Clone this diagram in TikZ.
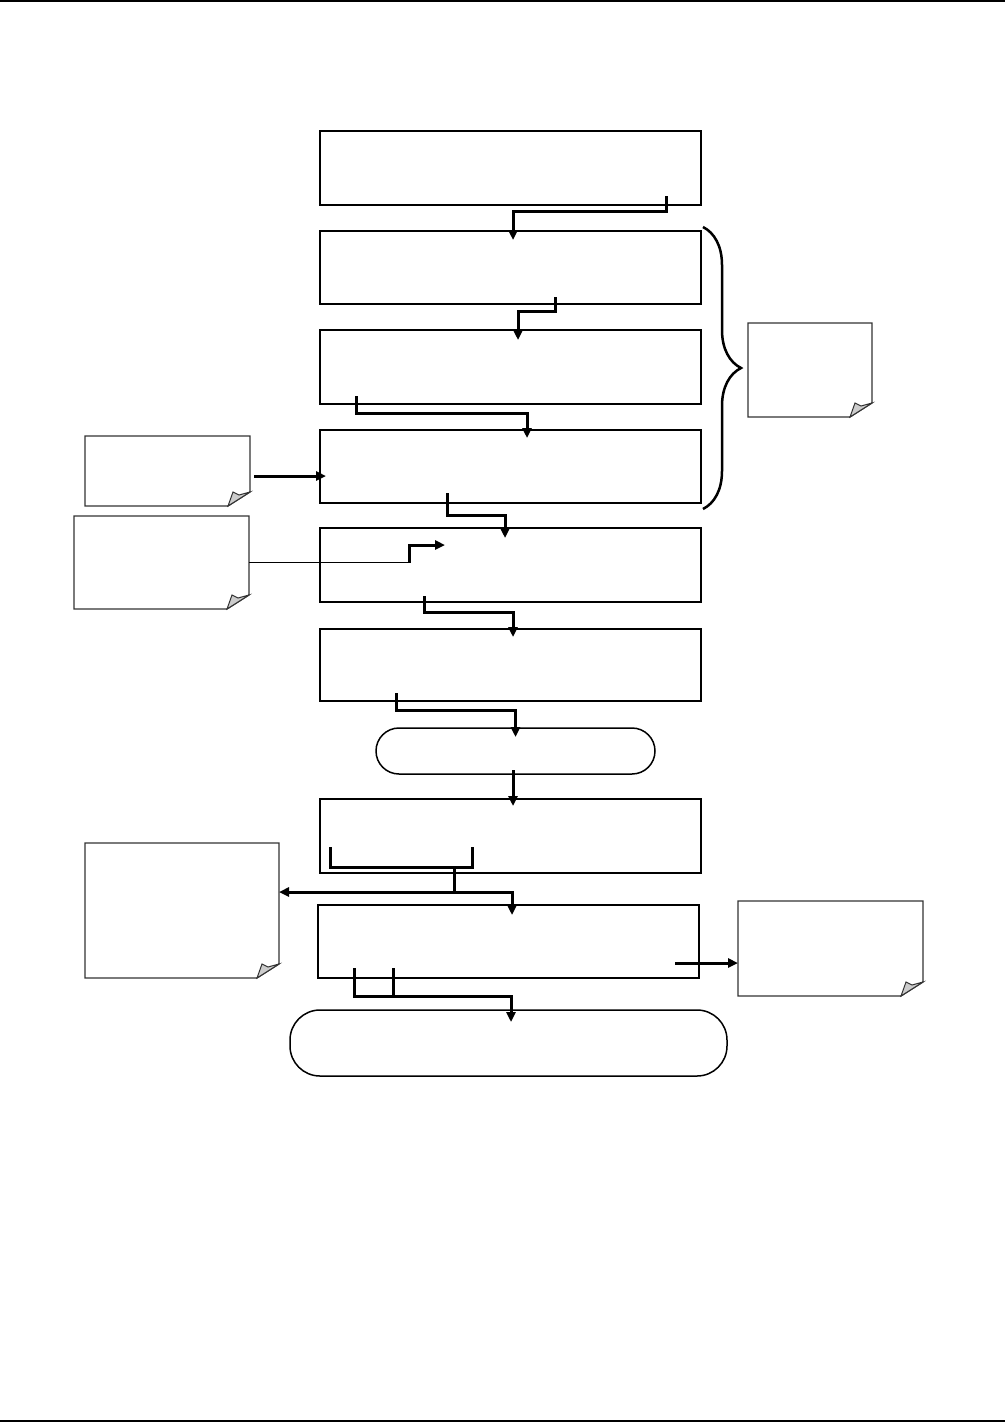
\documentclass[tikz,border=0pt]{standalone}
\usetikzlibrary{arrows.meta,decorations.pathreplacing}

\begin{document}
\begin{tikzpicture}[
    x=1pt, y=-1pt,
    >={Triangle[length=10pt,width=9pt]},
    stage/.style={
      rectangle, draw=black, line width=1.5pt, inner sep=0pt,
      outer sep=0pt, minimum width=381pt
    },
    term/.style={stage, rounded corners=#1},
    note/.style={rectangle, inner sep=0pt, outer sep=0pt},
    noteline/.style={draw=black!80, line width=1.3pt, fill=white},
    fold/.style={draw=black!80, line width=1pt, fill=black!20},
    flow/.style={->, line width=3pt},
    feed/.style={line width=1.5pt},
    rule/.style={line width=1.5pt}
  ]
  \useasboundingbox (0,0) rectangle (1005,1422);
  \draw[rule] (0,1) -- (1005,1);
  \draw[rule] (0,1421) -- (1005,1421);

  \node[stage, minimum height=74pt] (A) at (510.5,168) {};
  \node[stage, minimum height=73pt] (B) at (510.5,267.5) {};
  \node[stage, minimum height=74pt] (C) at (510.5,367) {};
  \node[stage, minimum height=73pt] (D) at (510.5,466.5) {};
  \node[stage, minimum height=74pt] (E) at (510.5,565) {};
  \node[stage, minimum height=72pt] (F) at (510.5,665) {};
  \node[term=23pt, minimum width=279pt, minimum height=46pt] (G) at (515.5,751) {};
  \node[stage, minimum height=74pt] (H) at (510.5,836) {};
  \node[stage, minimum height=73pt] (I) at (508.5,941.5) {};
  \node[term=30pt, minimum width=437pt, minimum height=66pt] (J) at (508.5,1043) {};

  \node[note, minimum width=165pt, minimum height=70pt] (N1) at (167.5,471) {};
  \node[note, minimum width=175pt, minimum height=93pt] (N2) at (161.5,562.5) {};
  \node[note, minimum width=124pt, minimum height=94pt] (N3) at (810,370) {};
  \node[note, minimum width=194pt, minimum height=135pt] (N4) at (182,910.5) {};
  \node[note, minimum width=185pt, minimum height=95pt] (N5) at (830.5,948.5) {};
  \foreach \n in {N1,N2,N3,N4,N5} {
    \draw[noteline] (\n.north west) -- (\n.north east)
      -- ([yshift=14pt]\n.south east) -- ([xshift=-22pt]\n.south east)
      -- (\n.south west) -- cycle;
    \draw[fold] ([xshift=-22pt]\n.south east) -- ([xshift=-17pt,yshift=14pt]\n.south east)
      -- ([xshift=-11pt,yshift=11pt]\n.south east) -- ([yshift=14pt]\n.south east) -- cycle;
  }

  \draw[line width=2.5pt, decoration={brace, amplitude=38pt}, decorate]
    ([xshift=2pt,yshift=4pt]B.north east) -- ([xshift=2pt,yshift=-6pt]D.south east);

  \draw[flow] ([xshift=-35pt,yshift=9pt]A.south east) -- ++(0,15)
    -| ([xshift=2.5pt,yshift=-9pt]B.north);
  \draw[flow] ([xshift=44.5pt,yshift=7pt]B.south) -- ++(0,14)
    -| ([xshift=7.5pt,yshift=-10pt]C.north);
  \draw[flow] ([xshift=36pt,yshift=8pt]C.south west) -- ++(0,17)
    -| ([xshift=16.5pt,yshift=-8pt]D.north);
  \draw[flow] ([xshift=4pt,yshift=-5pt]N1.east) -- ([xshift=6pt,yshift=-9.5pt]D.west);
  \draw[flow] ([xshift=-63.5pt,yshift=10pt]D.south) -- ++(0,22)
    -| ([xshift=-5.5pt,yshift=-10pt]E.north);
  \draw[feed] (N2.east) -- ++(160,0) coordinate (kink);
  \draw[flow] (kink) |- ([xshift=125pt,yshift=-17pt]E.north west);
  \draw[flow] ([xshift=104pt,yshift=6pt]E.south west) -- ++(0,16)
    -| ([xshift=2.5pt,yshift=-8pt]F.north);
  \draw[flow] ([xshift=76pt,yshift=8pt]F.south west) -- ++(0,17)
    -| ([yshift=-9pt]G.north);
  \draw[flow] ([xshift=-2.5pt,yshift=4pt]G.south) -- ([xshift=2.5pt,yshift=-7pt]H.north);

  \draw[line width=3pt] ([xshift=10pt,yshift=26pt]H.south west) -- ++(0,20)
    -- ++(142,0) -- ++(0,-20);
  \draw[line width=3pt] ([xshift=134pt,yshift=6pt]H.south west) coordinate (split) -- ++(0,25);
  \draw[flow] ([yshift=-25pt]split) -- ([yshift=18.5pt]N4.east);
  \draw[flow] ([yshift=-25pt]split) -| ([xshift=3.5pt,yshift=-10pt]I.north);

  \draw[line width=3pt] ([xshift=36pt,yshift=10pt]I.south west) -- ++(0,28)
    -- ++(39,0) -- ++(0,-28);
  \draw[flow] ([xshift=75pt,yshift=-18pt]I.south west) -| ([xshift=2.5pt,yshift=-12pt]J.north);
  \draw[flow] ([xshift=-24pt,yshift=-21.5pt]I.east) -- ([yshift=-14.5pt]N5.west);
\end{tikzpicture}
\end{document}
